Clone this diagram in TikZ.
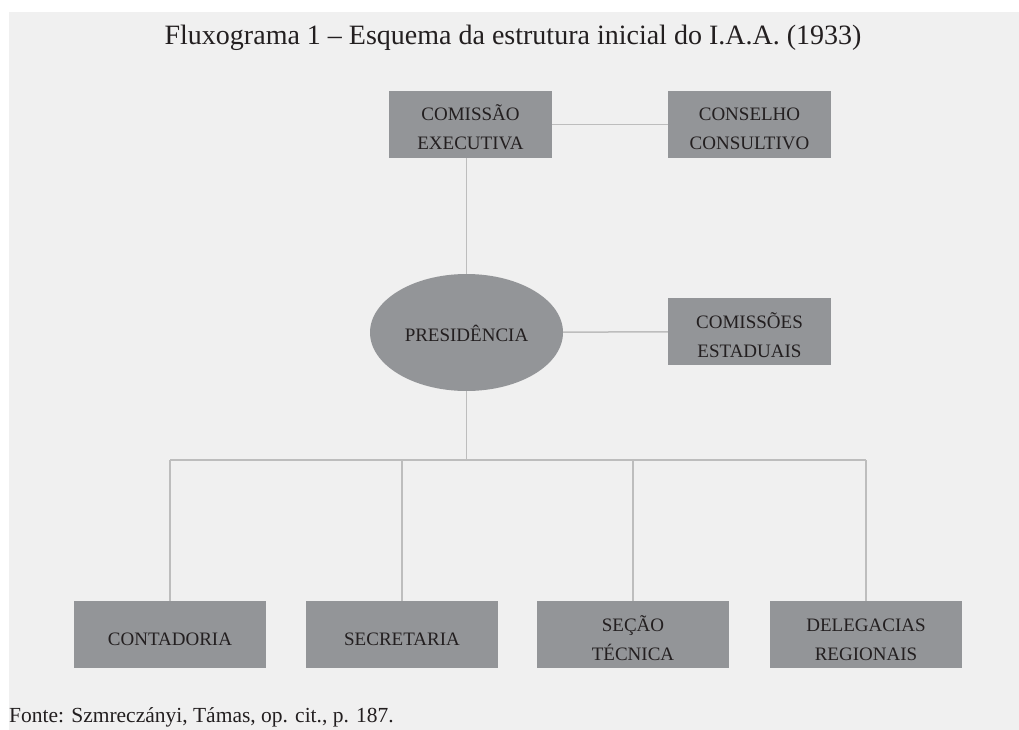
\documentclass[tikz,border=0pt]{standalone}
\usepackage{fontspec}
\setmainfont{Liberation Serif}
\usetikzlibrary{shapes.geometric}
\definecolor{fundo}{HTML}{F0F0F0}
\definecolor{caixa}{HTML}{939598}
\definecolor{linha}{HTML}{BDBDBD}
\definecolor{letra}{HTML}{231F20}

\begin{document}
\begin{tikzpicture}[x=1pt,y=-1pt,
  caixa/.style={rectangle,fill=caixa,minimum width=163pt,minimum height=67pt,inner sep=0pt,align=center,text=letra,font=\fontsize{19}{29}\selectfont,text height=57pt,text depth=6pt},
  umalinha/.style={text height=21pt,text depth=0pt},
  baixa/.style={caixa,minimum width=192pt},
  liga/.style={draw=linha,line width=1.5pt}]
\useasboundingbox (0,0) rectangle (1019,730);
\fill[fundo] (9,12) rectangle (1019,730);
\node[anchor=base,inner sep=0pt,text=letra,font=\fontsize{28}{32}\selectfont] (titulo) at (513,45) {Fluxograma 1 -- Esquema da estrutura inicial do I.A.A. (1933)};
\node[caixa] (ce) at (470.5,124.5) {COMISSÃO\\EXECUTIVA};
\node[caixa] (cc) at (749.5,124.5) {CONSELHO\\CONSULTIVO};
\node[ellipse,fill=caixa,minimum width=193pt,minimum height=117pt,inner sep=0pt,text=letra,font=\fontsize{19}{29}\selectfont,text height=17pt,text depth=0pt] (pres) at (466.5,332.5) {PRESIDÊNCIA};
\node[caixa] (cest) at (749.5,331.5) {COMISSÕES\\ESTADUAIS};
\node[baixa,umalinha] (cont) at (170,634.5) {CONTADORIA};
\node[baixa,umalinha] (secr) at (402,634.5) {SECRETARIA};
\node[baixa] (stec) at (633,634.5) {SEÇÃO\\TÉCNICA};
\node[baixa] (dele) at (866,634.5) {DELEGACIAS\\REGIONAIS};
\node[anchor=base west,inner sep=0pt,text=letra,font=\fontsize{21.5}{24}\selectfont] (fonte) at (9,722.5) {Fonte: Szmreczányi, Támas, op. cit., p. 187.};
\coordinate (bus) at (463,460);
\draw[liga] (ce) -- (cc);
\draw[liga] (pres.north) -- (pres.north |- ce.south);
\draw[liga] (pres) -- (cest);
\draw[liga] (pres.south) -- (pres.south |- bus);
\draw[liga] (cont.north |- bus) -- (dele.north |- bus);
\foreach \n in {cont,secr,stec,dele}
  \draw[liga] (\n.north) -- (\n.north |- bus);
\end{tikzpicture}
\end{document}
